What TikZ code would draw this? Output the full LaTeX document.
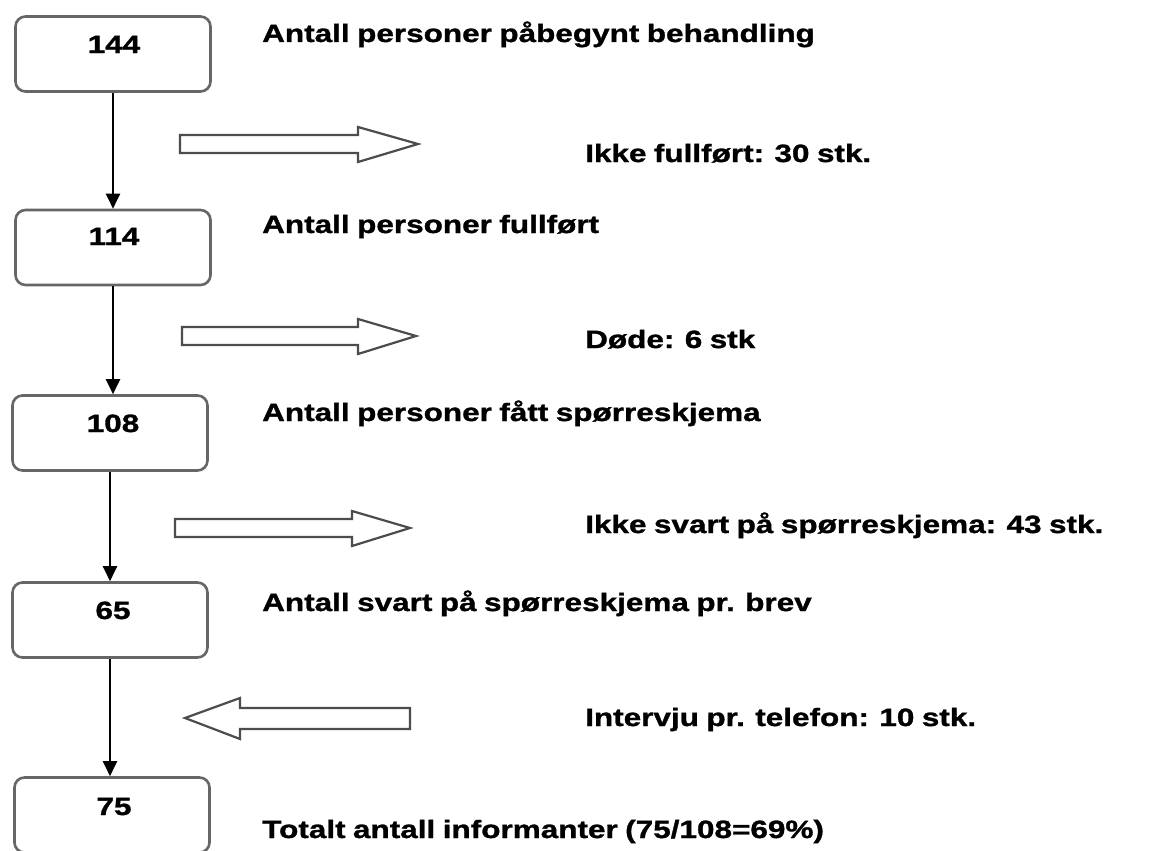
\documentclass[tikz,border=0pt]{standalone}
\usepackage{fontspec}
\setmainfont{Liberation Sans}[FakeStretch=1.26, WordSpace=0.85, BoldFeatures={FakeBold=1.2}]
\usetikzlibrary{arrows.meta}

\begin{document}
\begin{tikzpicture}[
        x=1pt, y=-1pt,
        box/.style={
          rectangle,
          draw=black!60,
          line width=2.6pt,
          rounded corners=10pt,
          minimum width=195pt,
          minimum height=75pt
        },
        num/.style={font=\fontsize{25}{28}\selectfont\bfseries, anchor=base},
        lbl/.style={font=\fontsize{25}{28}\selectfont\bfseries, anchor=base west, inner sep=0pt},
        line/.style={-{Triangle[width=14pt,length=15pt]}, line width=2pt},
        hollow/.style={draw=black!70, line width=2.2pt, fill=white, line join=miter}
    ]
    \useasboundingbox (0,0) rectangle (1151,851);

    % Define the boxes
    \node[box] (b144) at (113,54) {};
    \node[box] (b114) at (113,247.5) {};
    \node[box] (b108) at (110,433) {};
    \node[box] (b65) at (110,620) {};
    \node[box] (b75) at (112,815) {};

    % Numbers in the boxes
    \node[num] (n144) at (114,53) {144};
    \node[num] (n114) at (114,245) {114};
    \node[num] (n108) at (113,432) {108};
    \node[num] (n65) at (113,619) {65};
    \node[num] (n75) at (114,815) {75};

    % Connect the boxes
    \draw[line] (b144.south) -- (b144.south |- b114.north);
    \draw[line] (b114.south) -- (b114.south |- b108.north);
    \draw[line] (b108.south) -- (b108.south |- b65.north);
    \draw[line] (b65.south) -- (b65.south |- b75.north);

    % Block arrows
    \draw[hollow] (180,135) -- (358,135) -- (358,127) -- (418,144)
      -- (358,162) -- (358,153) -- (180,153) -- cycle;
    \draw[hollow] (182,327) -- (358,327) -- (358,319) -- (416,336)
      -- (358,354) -- (358,345) -- (182,345) -- cycle;
    \draw[hollow] (175,519) -- (352,519) -- (352,511) -- (410,528)
      -- (352,546) -- (352,537) -- (175,537) -- cycle;
    \draw[hollow] (410,708) -- (240,708) -- (240,698) -- (185,718)
      -- (240,739) -- (240,729) -- (410,729) -- cycle;

    % Texts
    \node[lbl] (tStart) at (262,42) {Antall personer påbegynt behandling};
    \node[lbl] (tNot) at (585,162) {Ikke fullført: 30 stk.};
    \node[lbl] (tDone) at (262,233) {Antall personer fullført};
    \node[lbl] (tDead) at (585,348) {Døde: 6 stk};
    \node[lbl] (tGot) at (262,421) {Antall personer fått spørreskjema};
    \node[lbl] (tNoAns) at (585,533) {Ikke svart på spørreskjema: 43 stk.};
    \node[lbl] (tLetter) at (262,611) {Antall svart på spørreskjema pr. brev};
    \node[lbl] (tPhone) at (585,726) {Intervju pr. telefon: 10 stk.};
    \node[lbl] (tTotal) at (262,838) {Totalt antall informanter (75/108=69\%)};

\end{tikzpicture}
\end{document}
